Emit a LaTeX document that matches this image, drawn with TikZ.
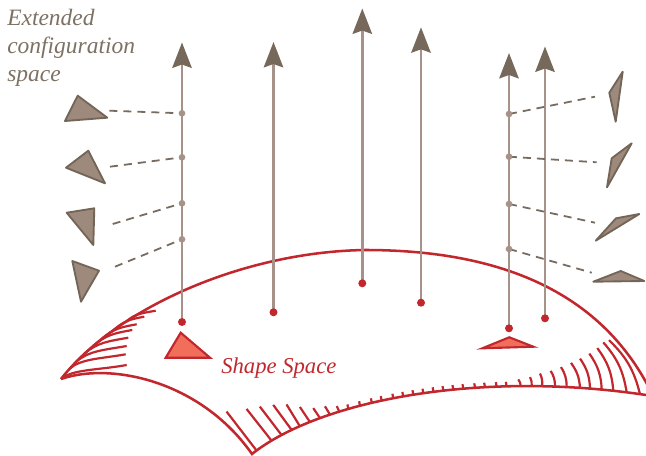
\documentclass[tikz,border=0pt]{standalone}
\usepackage{fontspec}
\setmainfont{Liberation Serif}
\usetikzlibrary{arrows.meta}
\definecolor{shaftc}{RGB}{166,146,136}
\definecolor{headc}{RGB}{118,105,92}
\definecolor{trifill}{RGB}{158,138,125}
\definecolor{tridraw}{RGB}{115,102,88}
\definecolor{dashcol}{RGB}{120,108,96}
\definecolor{redc}{RGB}{193,39,45}
\definecolor{redfill}{RGB}{240,110,90}
\definecolor{textc}{RGB}{125,113,100}
\begin{document}
\begin{tikzpicture}[x=0.75pt,y=-0.75pt,
  shaft/.style={draw=shaftc,line width=2.1pt,-{Stealth[length=19pt,width=14.5pt,inset=2.5pt,color=headc]}},
  reddot/.style={circle,fill=redc,inner sep=0pt,minimum size=6pt},
  greydot/.style={circle,fill=shaftc,inner sep=0pt,minimum size=5pt},
  dashc/.style={draw=dashcol,line width=1.35pt,dash pattern=on 6pt off 4.5pt},
  tri/.style={fill=trifill,draw=tridraw,line width=1.4pt,line join=round},
  redtri/.style={fill=redfill,draw=redc,line width=1.6pt},
  surf/.style={draw=redc,line width=1.9pt},
  hatch/.style={draw=redc,line width=1.65pt},
  lbl/.style={inner sep=0pt,font=\itshape\fontsize{17}{21}\selectfont}
]
\useasboundingbox (0,0) rectangle (646,456);

% ---------- surface ----------
\coordinate (A0) at (61,379);
\coordinate (B0) at (252,454);
\coordinate (B1) at (320,400);
\coordinate (B2) at (480,370);
\coordinate (B3) at (646,395);
\draw[surf] (A0) .. controls (115,310) and (240,252) .. (365,250)
             .. controls (480,250) and (600,280) .. (655,400);
\draw[surf] (A0) .. controls (110,362) and (200,380) .. (B0)
             .. controls (B1) and (B2) .. (B3);

% cusp hatching
\draw[hatch] (61,379) .. controls (72.2,369.2) and (97.1,370.3) .. (126.7,365);
\draw[hatch] (69.6,368.7) .. controls (81.1,358.6) and (100.5,358.8) .. (125.7,354.3);
\draw[hatch] (76.4,361.6) .. controls (88.9,350.7) and (104.1,350) .. (126.7,346);
\draw[hatch] (84.4,353.7) .. controls (97.2,342.5) and (108.5,341.2) .. (128.3,337.7);
\draw[hatch] (93.2,346) .. controls (106,334.8) and (114.7,333.1) .. (132.3,330);
\draw[hatch] (101.3,339.2) .. controls (113.2,328.8) and (120.8,327.1) .. (136.7,324.3);
\draw[hatch] (113.1,330.4) .. controls (124.1,320.8) and (130.3,319.2) .. (144.3,316.7);
\draw[hatch] (126.9,321) .. controls (135.1,313.8) and (142.7,313) .. (155.7,310.7);

% bottom edge ticks
\foreach \p/\dx/\dy in {0.0216/-30/-39, 0.086/-25/-31.7, 0.1246/-21.7/-28.4,
    0.161/-18.4/-25, 0.189/-13.3/-21.7, 0.2218/-10/-15, 0.2533/-6.7/-10,
    0.2832/-5/-8.3, 0.3103/-2.6/-5.5,
    0.3355/-0.8/-4.5, 0.3674/-0.8/-4.5, 0.3987/-0.8/-4.5, 0.4241/-0.8/-4.5,
    0.4534/-0.8/-4.5, 0.478/-0.8/-4.5, 0.5025/-0.8/-4.5, 0.5264/-0.8/-4.5,
    0.5502/-0.8/-4.5, 0.573/-0.8/-4.5, 0.5957/-0.8/-4.5, 0.6182/-0.8/-4.5,
    0.6444/-0.8/-4.5, 0.6662/-0.8/-4.5, 0.6916/-0.8/-4.5, 0.7131/-0.8/-4.5}{
  \path (B0) .. controls (B1) and (B2) .. (B3) coordinate[pos=\p] (k);
  \draw[hatch] (k) -- ++(\dx,\dy);
}
\foreach \p/\dx/\dy in {0.7431/-2.4/-6.7, 0.7663/-1.7/-9, 0.7879/-2/-12.7,
    0.8149/-4.3/-15.7, 0.839/-5.7/-20, 0.8664/-9/-25, 0.8869/-10/-30,
    0.9107/-12.4/-36, 0.9341/-16/-42.7, 0.9611/-23.4/-50, 0.9879/-31/-54}{
  \path (B0) .. controls (B1) and (B2) .. (B3) coordinate[pos=\p] (k);
  \draw[hatch] (k) to[bend right=16] ++(\dx,\dy);
}

% red triangles on the surface
\draw[redtri] (180.7,332.7) -- (165.7,357.7) -- (210,357.7) -- cycle;
\draw[redtri] (509.3,337.3) -- (482.3,348.3) -- (533.3,346.7) -- cycle;

\node[lbl,text=redc,anchor=base west] (ss) at (221,373) {Shape Space};

% ---------- fibres (arrows) ----------
\coordinate (b1) at (182,322);   \coordinate (t1) at (182,42.5);
\coordinate (b2) at (273.5,312.3); \coordinate (t2) at (273.5,42);
\coordinate (b3) at (362.3,283.3); \coordinate (t3) at (362.3,8.5);
\coordinate (b4) at (421,302.7); \coordinate (t4) at (421,27.3);
\coordinate (b5) at (509,328.3); \coordinate (t5) at (509,53);
\coordinate (b6) at (545,318.3); \coordinate (t6) at (545,46.5);
\foreach \i in {1,...,6}{ \draw[shaft] (b\i) -- (t\i); }
\foreach \i in {1,...,6}{ \node[reddot] (d\i) at (b\i) {}; }

% ---------- left configurations ----------
\coordinate (l1) at (109.3,110.7);
\coordinate (l2) at (110,166.7);
\coordinate (l3) at (112.7,224);
\coordinate (l4) at (115,266.7);
\coordinate (g1p) at (182,113.3);
\coordinate (g2p) at (182,157.3);
\coordinate (g3p) at (182,203.3);
\coordinate (g4p) at (182,239.3);
\foreach \i in {1,...,4}{ \draw[dashc] (l\i) -- (g\i p); }
\foreach \i in {1,...,4}{ \node[greydot] (g\i) at (g\i p) {}; }

\draw[tri] (77.7,95.7) -- (65,121) -- (107.3,117.7) -- cycle;
\draw[tri] (88.3,150.7) -- (66,167.7) -- (105,183.3) -- cycle;
\draw[tri] (66.7,212.7) -- (94.3,208.3) -- (93.3,245) -- cycle;
\draw[tri] (72.3,261) -- (99,270.7) -- (81,301.7) -- cycle;

% ---------- right configurations ----------
\coordinate (r1) at (595,96.7);
\coordinate (r2) at (596.7,162.3);
\coordinate (r3) at (595,222.7);
\coordinate (r4) at (591.7,272.7);
\coordinate (h1p) at (509,114);
\coordinate (h2p) at (509,156.7);
\coordinate (h3p) at (509,204);
\coordinate (h4p) at (509,249);
\foreach \i in {1,...,4}{ \draw[dashc] (h\i p) -- (r\i); }
\foreach \i in {1,...,4}{ \node[greydot] (h\i) at (h\i p) {}; }

\draw[tri] (622.7,71.7) -- (609.3,92.7) -- (615.7,121.7) -- cycle;
\draw[tri] (631.7,143.3) -- (611.7,158.3) -- (607,187.3) -- cycle;
\draw[tri] (639.3,214) -- (616,218.3) -- (595.7,240.7) -- cycle;
\draw[tri] (593.3,281.7) -- (620.7,271) -- (644.3,281) -- cycle;

% ---------- title ----------
\node[lbl,text=textc,anchor=north west,align=left,font=\itshape\fontsize{17.6}{21}\selectfont] (title) at (7,9.3)
  {Extended\\configuration\\space};
\end{tikzpicture}
\end{document}
